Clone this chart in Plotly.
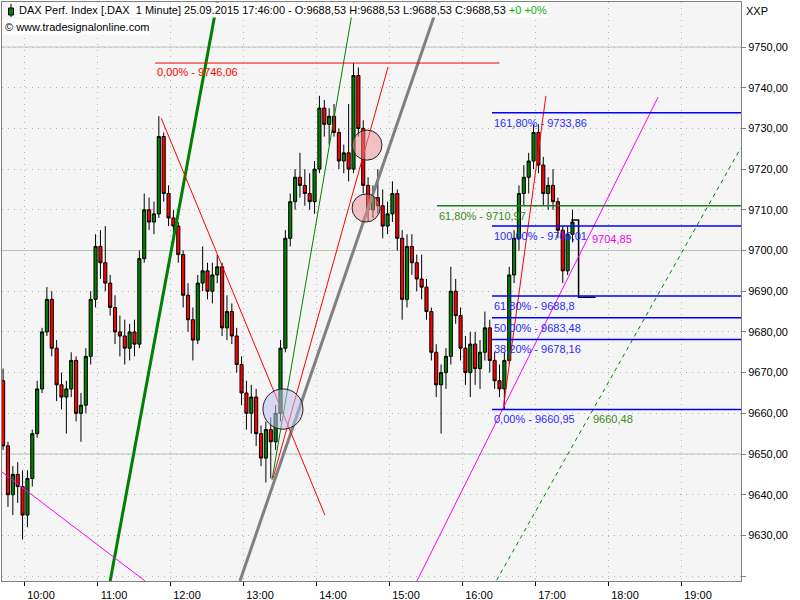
import plotly.graph_objects as go
import pandas as pd

DAY = "2015-09-25 "

# ---------------- price data (4-minute candles, 09:42 - 17:30) ----------------
start_time = DAY + "09:42"
opens = [9668, 9652, 9640, 9645, 9642, 9635, 9644, 9655, 9666, 9680,
         9688, 9676, 9667, 9664, 9666, 9673, 9660, 9662, 9674, 9688,
         9701, 9697, 9692, 9686, 9680, 9679, 9676, 9680, 9677, 9698,
         9710, 9707, 9709, 9728, 9714, 9708, 9706, 9699, 9689, 9683,
         9678, 9692, 9695, 9690, 9694, 9696, 9681, 9685, 9679, 9672,
         9665, 9660, 9664, 9655, 9649, 9656, 9653, 9660, 9676, 9703,
         9712, 9718, 9716, 9714, 9712, 9720, 9735, 9731, 9733, 9729,
         9722, 9724, 9720, 9743, 9730, 9716, 9710, 9713, 9711, 9706,
         9709, 9714, 9703, 9688, 9701, 9697, 9693, 9691, 9685, 9675,
         9667, 9670, 9674, 9690, 9684, 9676, 9670, 9677, 9671, 9675,
         9681, 9673, 9668, 9666, 9673, 9694, 9703, 9714, 9718, 9722,
         9729, 9721, 9714, 9716, 9712, 9705, 9695, 9704]
highs = [9671, 9653, 9647, 9648, 9646, 9646, 9656, 9668, 9681, 9691,
         9690, 9678, 9670, 9668, 9675, 9674, 9665, 9676, 9690, 9704,
         9705, 9706, 9694, 9689, 9684, 9683, 9682, 9683, 9700, 9714,
         9713, 9712, 9733, 9729, 9716, 9710, 9707, 9700, 9692, 9686,
         9694, 9701, 9697, 9697, 9699, 9697, 9689, 9687, 9681, 9674,
         9668, 9667, 9666, 9657, 9658, 9659, 9662, 9678, 9705, 9714,
         9720, 9724, 9720, 9719, 9722, 9738, 9737, 9735, 9736, 9730,
         9726, 9736, 9746.06, 9745, 9732, 9718, 9716, 9720, 9715, 9712,
         9717, 9715, 9705, 9704, 9704, 9699, 9699, 9693, 9686, 9677,
         9672, 9676, 9696, 9693, 9686, 9679, 9680, 9680, 9678, 9685,
         9683, 9675, 9672, 9675, 9696, 9705, 9716, 9721, 9724, 9731,
         9731, 9723, 9718, 9720, 9713, 9706, 9706, 9710]
lows = [9651, 9637, 9635, 9638, 9629, 9632, 9642, 9654, 9665, 9679,
        9674, 9663, 9661, 9655, 9664, 9658, 9653, 9660, 9672, 9686,
        9693, 9690, 9684, 9677, 9674, 9672, 9673, 9674, 9676, 9697,
        9705, 9704, 9708, 9712, 9706, 9703, 9697, 9686, 9680, 9673,
        9677, 9690, 9688, 9687, 9692, 9679, 9678, 9677, 9670, 9662,
        9656, 9655, 9652, 9647, 9643, 9644, 9651, 9658, 9675, 9701,
        9710, 9713, 9711, 9710, 9709, 9719, 9728, 9726, 9728, 9720,
        9719, 9717, 9719, 9728, 9714, 9707, 9708, 9709, 9703, 9704,
        9707, 9700, 9683, 9686, 9694, 9690, 9688, 9683, 9673, 9664,
        9655, 9666, 9672, 9682, 9673, 9667, 9664, 9667, 9666, 9673,
        9670, 9666, 9664, 9660.95, 9672, 9692, 9700, 9711, 9714, 9720,
        9719, 9711, 9710, 9710, 9703, 9692, 9694, 9702]
closes = [9652, 9640, 9645, 9642, 9635, 9644, 9655, 9666, 9680, 9688,
          9676, 9667, 9664, 9666, 9673, 9660, 9662, 9674, 9688, 9701,
          9697, 9692, 9686, 9680, 9679, 9676, 9680, 9677, 9698, 9710,
          9707, 9709, 9728, 9714, 9708, 9706, 9699, 9689, 9683, 9678,
          9692, 9695, 9690, 9694, 9696, 9681, 9685, 9679, 9672, 9665,
          9660, 9664, 9655, 9649, 9656, 9653, 9660, 9676, 9703, 9712,
          9718, 9716, 9714, 9712, 9720, 9735, 9731, 9733, 9729, 9722,
          9724, 9720, 9743, 9730, 9716, 9710, 9713, 9711, 9706, 9709,
          9714, 9703, 9688, 9701, 9697, 9693, 9691, 9685, 9675, 9667,
          9670, 9674, 9690, 9684, 9676, 9670, 9677, 9671, 9675, 9681,
          9673, 9668, 9666, 9673, 9694, 9703, 9714, 9718, 9722, 9729,
          9721, 9714, 9716, 9712, 9705, 9695, 9704, 9707]
times = pd.date_range(start_time, periods=len(opens), freq="4min")

# final auction step (last quote 17:46 = 9688,53)
close_step_times = [DAY + "17:29", DAY + "17:35", DAY + "17:35", DAY + "17:49"]
close_step_prices = [9707.5, 9707.5, 9688.53, 9688.53]

# ---------------- drawing objects ----------------
# trend lines: (name, t0, p0, t1, p1, color, width, dash)
trend_lines = [
    ("green_thick", "11:10:00", 9618.8, "12:38:00", 9761.1, "#008000", 3, "solid"),
    ("gray_thick", "12:56:40", 9618.8, "15:40:20", 9761.1, "#808080", 3, "solid"),
    ("red_down", "11:52:00", 9732.5, "14:06:30", 9635.0, "#ff0000", 1, "solid"),
    ("green_thin", "13:23:00", 9643.6, "14:30:25", 9761.1, "#008000", 1, "solid"),
    ("red_up1", "13:23:50", 9644.1, "14:58:25", 9745.1, "#ff0000", 1, "solid"),
    ("red_up2", "16:32:55", 9660.8, "17:08:10", 9738.0, "#ff0000", 1, "solid"),
    ("magenta_up", "15:22:10", 9618.8, "18:40:20", 9737.7, "#ff00ff", 1, "solid"),
    ("magenta_down", "09:41:00", 9645.6, "11:38:40", 9618.8, "#ff00ff", 1, "solid"),
    ("green_dash", "16:27:40", 9619.0, "19:48:20", 9725.2, "#008000", 1, "4px,4px"),
]

# horizontal retracement / extension levels
red_level = 9746.06
red_level_span = ["11:47", "16:30"]
red_level_label = "0,00% - 9746,06"

green_level = 9710.97
green_level_start = "15:38:40"
green_level_label = "61,80% - 9710,97"

blue_levels = [9733.86, 9706.01, 9688.80, 9683.48, 9678.16, 9660.95]
blue_labels = ["161,80% - 9733,86", "100,00% - 9706,01", "61,80% - 9688,8",
               "50,00% - 9683,48", "38,20% - 9678,16", "0,00% - 9660,95"]
blue_start = "16:23:50"

# value tags on trend lines
tag_texts = ["9704,85", "9660,48"]
tag_times = ["17:44:25", "17:45:10"]
tag_prices = [9704.85, 9660.48]
tag_colors = ["#ee00ee", "#3a8a1a"]

# ellipses: (t0, t1, p0, p1, fill)
ellipses = [
    ("13:15:35", "13:48:30", 9656.1, 9666.0, "rgba(190,190,235,0.55)"),
    ("14:28:50", "14:53:25", 9722.2, 9729.6, "rgba(240,140,140,0.5)"),
    ("14:28:50", "14:51:50", 9707.0, 9713.9, "rgba(240,140,140,0.5)"),
]

header_text = "DAX Perf. Index [.DAX  1 Minute] 25.09.2015 17:46:00 - O:9688,53 H:9688,53 L:9688,53 C:9688,53 "
header_change = "+0 +0%"
copyright_text = "© www.tradesignalonline.com"

x_range = [DAY + "09:41:06", DAY + "19:48:30"]
y_range = [9618.8, 9761.06]
y_grid_vals = [9620, 9630, 9640, 9650, 9660, 9670, 9680, 9690, 9700, 9710, 9720, 9730, 9740, 9750]
y_tick_text = [""] + ["%d,00" % v for v in y_grid_vals[1:]]
grid_major = [9650, 9700, 9750]

FONT = "Liberation Sans"
W, H = 800, 600
ML, MR, MT, MB = 2, 59, 2, 19
PW, PH = W - ML - MR, H - MT - MB


def px(x):
    return (x - ML) / PW


def py(y):
    return 1 - (y - MT) / PH


fig = go.Figure()

fig.add_trace(go.Candlestick(
    x=times, open=opens, high=highs, low=lows, close=closes,
    increasing=dict(fillcolor="#008000", line=dict(color="#000000", width=1)),
    decreasing=dict(fillcolor="#ff0000", line=dict(color="#000000", width=1)),
    whiskerwidth=0, showlegend=False, hoverinfo="skip",
))

fig.add_trace(go.Scatter(x=close_step_times, y=close_step_prices, mode="lines",
                         line=dict(color="#000000", width=1.5), showlegend=False,
                         hoverinfo="skip"))

for name, t0, p0, t1, p1, col, w, dash in trend_lines:
    fig.add_trace(go.Scatter(x=[DAY + t0, DAY + t1], y=[p0, p1], mode="lines",
                             line=dict(color=col, width=w, dash=dash),
                             showlegend=False, hoverinfo="skip", name=name))

# levels
fig.add_trace(go.Scatter(x=[DAY + red_level_span[0], DAY + red_level_span[1]],
                         y=[red_level, red_level], mode="lines",
                         line=dict(color="#ff0000", width=1), showlegend=False,
                         hoverinfo="skip"))
fig.add_trace(go.Scatter(x=[DAY + green_level_start, x_range[1]],
                         y=[green_level, green_level], mode="lines",
                         line=dict(color="#1e7b1e", width=1.5), showlegend=False,
                         hoverinfo="skip"))
for lv in blue_levels:
    fig.add_trace(go.Scatter(x=[DAY + blue_start, x_range[1]], y=[lv, lv],
                             mode="lines", line=dict(color="#0000ff", width=1.5),
                             showlegend=False, hoverinfo="skip"))

ann = []
ann.append(dict(x=DAY + red_level_span[0], y=red_level, text=red_level_label,
                xanchor="left", yanchor="top", yshift=-1, showarrow=False,
                font=dict(color="#ff0000", size=11, family=FONT)))
ann.append(dict(x=DAY + green_level_start, y=green_level, text=green_level_label,
                xanchor="left", yanchor="top", yshift=-2, showarrow=False,
                font=dict(color="#3a8a1a", size=11, family=FONT)))
for lv, lab in zip(blue_levels, blue_labels):
    ann.append(dict(x=DAY + blue_start, y=lv, text=lab, xanchor="left",
                    yanchor="top", yshift=-2, showarrow=False,
                    font=dict(color="#2a2aff", size=11, family=FONT)))
for t, p, txt, col in zip(tag_times, tag_prices, tag_texts, tag_colors):
    ann.append(dict(x=DAY + t, y=p, text=txt, xanchor="left", yanchor="top",
                    showarrow=False, font=dict(color=col, size=11, family=FONT)))

ann.append(dict(xref="paper", yref="paper", x=px(17), y=py(10),
                text=header_text + "<span style='color:#00b000'>" + header_change + "</span>",
                xanchor="left", yanchor="middle", showarrow=False,
                bgcolor="#ffffff", borderpad=1,
                font=dict(color="#000000", size=11, family=FONT)))
ann.append(dict(xref="paper", yref="paper", x=px(3), y=py(27),
                text=copyright_text, xanchor="left", yanchor="middle",
                showarrow=False, bgcolor="#ffffff", borderpad=1,
                font=dict(color="#000000", size=11, family=FONT)))
ann.append(dict(xref="paper", yref="paper", x=px(744), y=py(11), text="XXP",
                xanchor="left", yanchor="middle", showarrow=False,
                font=dict(color="#000000", size=11, family=FONT)))

shapes = []
for lv in grid_major:
    shapes.append(dict(type="line", xref="paper", x0=0, x1=1, yref="y", y0=lv, y1=lv,
                       line=dict(color="#b4c8b4", width=1), layer="below"))
for t0, t1, p0, p1, fill in ellipses:
    shapes.append(dict(type="circle", xref="x", yref="y", x0=DAY + t0, x1=DAY + t1,
                       y0=p0, y1=p1, fillcolor=fill,
                       line=dict(color="#202020", width=1), layer="above"))
# header candle icon
shapes.append(dict(type="line", xref="paper", yref="paper", x0=px(11), x1=px(11),
                   y0=py(4), y1=py(17), line=dict(color="#000000", width=1)))
shapes.append(dict(type="rect", xref="paper", yref="paper", x0=px(8.5), x1=px(13.5),
                   y0=py(15), y1=py(8), fillcolor="#008000",
                   line=dict(color="#000000", width=1)))

fig.update_layout(
    width=W, height=H,
    margin=dict(l=ML, r=MR, t=MT, b=MB, pad=0, autoexpand=False),
    paper_bgcolor="#ffffff", plot_bgcolor="#f5f5f5",
    separators=",.",
    boxgap=0.08,
    font=dict(family=FONT, size=11, color="#000000"),
    annotations=ann, shapes=shapes, showlegend=False,
    xaxis=dict(type="date", range=x_range, rangeslider=dict(visible=False),
               tick0=DAY + "10:00", dtick=3600000, tickformat="%H:%M",
               ticks="outside", ticklen=4, tickcolor="#000000",
               ticklabelshift=16, ticklabelstandoff=0, automargin=False,
               showgrid=True, gridcolor="#a8bca8", griddash="1px,5px", gridwidth=1,
               showline=True, linecolor="#808080", linewidth=1, mirror=True,
               zeroline=False, fixedrange=True,
               tickfont=dict(family=FONT, size=11, color="#000000")),
    yaxis=dict(side="right", range=y_range, tickmode="array", tickvals=y_grid_vals,
               ticktext=y_tick_text, automargin=False,
               ticks="outside", ticklen=4, tickcolor="#808080",
               showgrid=True, gridcolor="#a8bca8", griddash="1px,5px", gridwidth=1,
               showline=True, linecolor="#808080", linewidth=1, mirror=True,
               zeroline=False, fixedrange=True,
               tickfont=dict(family=FONT, size=11, color="#000000")),
)

fig.write_html("out.html", config={"displayModeBar": False},
               post_script="document.body.style.margin='0';document.body.style.padding='0';")
